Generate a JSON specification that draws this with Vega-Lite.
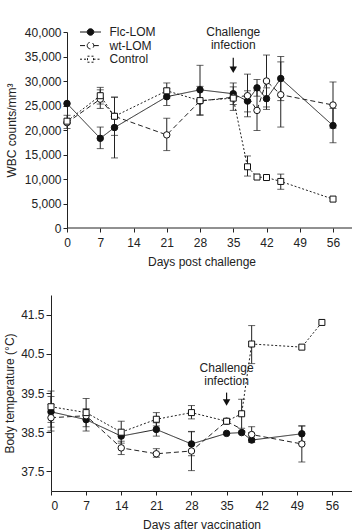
{
  "$schema": "https://vega.github.io/schema/vega-lite/v6.json",
  "padding": {"left": 3, "top": 26, "right": 0, "bottom": 0},
  "spacing": 28,
  "datasets": {
    "wbc": [
      {"series": "Flc-LOM", "day": 0, "value": 25400, "lo": null, "hi": null},
      {"series": "Flc-LOM", "day": 7, "value": 18300, "lo": 16200, "hi": 20600},
      {"series": "Flc-LOM", "day": 10, "value": 20500, "lo": 14300, "hi": 26700},
      {"series": "Flc-LOM", "day": 21, "value": 26800, "lo": 25000, "hi": 28500},
      {"series": "Flc-LOM", "day": 28, "value": 28200, "lo": 23100, "hi": 33200},
      {"series": "Flc-LOM", "day": 35, "value": 27400, "lo": 25200, "hi": 29600},
      {"series": "Flc-LOM", "day": 38, "value": 25900, "lo": 23700, "hi": 28000},
      {"series": "Flc-LOM", "day": 40, "value": 28600, "lo": 26900, "hi": 30300},
      {"series": "Flc-LOM", "day": 42, "value": 26400, "lo": 24200, "hi": 28600},
      {"series": "Flc-LOM", "day": 45, "value": 30500, "lo": 26000, "hi": 35000},
      {"series": "Flc-LOM", "day": 56, "value": 20900, "lo": 17400, "hi": 24400},
      {"series": "wt-LOM", "day": 0, "value": 21500, "lo": 20300, "hi": 23000},
      {"series": "wt-LOM", "day": 7, "value": 26300, "lo": 24400, "hi": 28200},
      {"series": "wt-LOM", "day": 10, "value": 22800, "lo": 18900, "hi": 26700},
      {"series": "wt-LOM", "day": 21, "value": 19000, "lo": 15800, "hi": 22400},
      {"series": "wt-LOM", "day": 28, "value": 25900, "lo": 23000, "hi": 28900},
      {"series": "wt-LOM", "day": 35, "value": 26700, "lo": 24000, "hi": 28800},
      {"series": "wt-LOM", "day": 38, "value": 27000, "lo": 22700, "hi": 31400},
      {"series": "wt-LOM", "day": 40, "value": 24000, "lo": 19900, "hi": 28100},
      {"series": "wt-LOM", "day": 42, "value": 30000, "lo": 24700, "hi": 35300},
      {"series": "wt-LOM", "day": 45, "value": 27200, "lo": 20600, "hi": 33900},
      {"series": "wt-LOM", "day": 56, "value": 25100, "lo": 20400, "hi": 29800},
      {"series": "Control", "day": 0, "value": 21800, "lo": null, "hi": null},
      {"series": "Control", "day": 7, "value": 27000, "lo": 25300, "hi": 28700},
      {"series": "Control", "day": 10, "value": 22800, "lo": null, "hi": null},
      {"series": "Control", "day": 21, "value": 28000, "lo": 26500, "hi": 29600},
      {"series": "Control", "day": 28, "value": 26000, "lo": null, "hi": null},
      {"series": "Control", "day": 35, "value": 26500, "lo": null, "hi": null},
      {"series": "Control", "day": 38, "value": 12500, "lo": 10600, "hi": 14700},
      {"series": "Control", "day": 40, "value": 10400, "lo": null, "hi": null},
      {"series": "Control", "day": 42, "value": 10300, "lo": null, "hi": null},
      {"series": "Control", "day": 45, "value": 9500, "lo": 7900, "hi": 11000},
      {"series": "Control", "day": 56, "value": 5900, "lo": null, "hi": null}
    ],
    "temp": [
      {"series": "Flc-LOM", "day": 0, "value": 39.02, "lo": 38.63, "hi": 39.41},
      {"series": "Flc-LOM", "day": 7, "value": 38.82, "lo": 38.53, "hi": 39.1},
      {"series": "Flc-LOM", "day": 14, "value": 38.4, "lo": null, "hi": null},
      {"series": "Flc-LOM", "day": 21, "value": 38.57, "lo": 38.4, "hi": 38.74},
      {"series": "Flc-LOM", "day": 28, "value": 38.2, "lo": 37.9, "hi": 38.51},
      {"series": "Flc-LOM", "day": 35, "value": 38.47, "lo": null, "hi": null},
      {"series": "Flc-LOM", "day": 38, "value": 38.49, "lo": null, "hi": null},
      {"series": "Flc-LOM", "day": 40, "value": 38.3, "lo": null, "hi": null},
      {"series": "Flc-LOM", "day": 50, "value": 38.46, "lo": 38.26, "hi": 38.66},
      {"series": "wt-LOM", "day": 0, "value": 38.87, "lo": 38.53, "hi": 39.21},
      {"series": "wt-LOM", "day": 7, "value": 38.92, "lo": null, "hi": null},
      {"series": "wt-LOM", "day": 14, "value": 38.1, "lo": 37.93, "hi": 38.27},
      {"series": "wt-LOM", "day": 21, "value": 37.95, "lo": 37.86, "hi": 38.08},
      {"series": "wt-LOM", "day": 28, "value": 38.02, "lo": 37.52, "hi": 38.52},
      {"series": "wt-LOM", "day": 35, "value": 38.78, "lo": null, "hi": null},
      {"series": "wt-LOM", "day": 40, "value": 38.44, "lo": 38.24, "hi": 38.64},
      {"series": "wt-LOM", "day": 50, "value": 38.2, "lo": 37.74, "hi": 38.66},
      {"series": "Control", "day": 0, "value": 39.15, "lo": 38.75, "hi": 39.55},
      {"series": "Control", "day": 7, "value": 39.0, "lo": 38.64, "hi": 39.36},
      {"series": "Control", "day": 14, "value": 38.5, "lo": 38.22, "hi": 38.78},
      {"series": "Control", "day": 21, "value": 38.83, "lo": 38.66, "hi": 39.0},
      {"series": "Control", "day": 28, "value": 39.0, "lo": 38.84, "hi": 39.18},
      {"series": "Control", "day": 35, "value": 38.78, "lo": null, "hi": null},
      {"series": "Control", "day": 38, "value": 38.97, "lo": 38.6, "hi": 39.34},
      {"series": "Control", "day": 40, "value": 40.75, "lo": 40.25, "hi": 41.22},
      {"series": "Control", "day": 50, "value": 40.67, "lo": null, "hi": null},
      {"series": "Control", "day": 54, "value": 41.3, "lo": null, "hi": null}
    ],
    "noteTop": [{"day": 35, "value": 40000}],
    "arrowTop": [{"day": 35, "value": 34770, "end": 32300}],
    "axisLineTop": [{"day": 0, "end": 60, "value": 0}],
    "noteBottom": [{"day": 35, "value": 40.15}],
    "arrowBottom": [{"day": 35, "value": 39.51, "end": 39.26}]
  },
  "vconcat": [
    {
      "width": 301,
      "height": 196,
      "layer": [
        {
          "data": {"name": "axisLineTop"},
          "mark": {"type": "rule", "color": "#222", "strokeWidth": 1},
          "encoding": {
            "x": {"field": "day", "type": "quantitative", "scale": {"domain": [-3.37, 60], "nice": false, "zero": false}, "axis": {"values": [0, 7, 14, 21, 28, 35, 42, 49, 56], "title": "Days post challenge", "labelPadding": 5, "titlePadding": 8, "labelOverlap": false, "domain": false}},
            "x2": {"field": "end"},
            "y": {"field": "value", "type": "quantitative", "scale": {"domain": [0, 40000], "nice": false}, "axis": {"values": [0, 5000, 10000, 15000, 20000, 25000, 30000, 35000, 40000], "format": ",.0f", "title": "WBC counts/mm³", "titlePadding": 6, "labelOverlap": false, "offset": -16}}
          }
        },
        {
          "data": {"name": "wbc"},
          "transform": [{"filter": "isValid(datum.lo)"}],
          "mark": {"type": "rule", "color": "#222", "strokeWidth": 1},
          "encoding": {
            "x": {"field": "day", "type": "quantitative", "scale": {"domain": [-3.37, 60], "nice": false, "zero": false}, "axis": {"values": [0, 7, 14, 21, 28, 35, 42, 49, 56], "title": "Days post challenge", "labelPadding": 5, "titlePadding": 8, "labelOverlap": false, "domain": false}},
            "y": {"field": "lo", "type": "quantitative", "scale": {"domain": [0, 40000], "nice": false}, "axis": {"values": [0, 5000, 10000, 15000, 20000, 25000, 30000, 35000, 40000], "format": ",.0f", "title": "WBC counts/mm³", "titlePadding": 6, "labelOverlap": false, "offset": -16}},
            "y2": {"field": "hi"}
          }
        },
        {
          "data": {"name": "wbc"},
          "transform": [{"filter": "isValid(datum.lo)"}],
          "mark": {"type": "tick", "orient": "horizontal", "size": 7, "thickness": 1, "color": "#222"},
          "encoding": {
            "x": {"field": "day", "type": "quantitative", "scale": {"domain": [-3.37, 60], "nice": false, "zero": false}, "axis": {"values": [0, 7, 14, 21, 28, 35, 42, 49, 56], "title": "Days post challenge", "labelPadding": 5, "titlePadding": 8, "labelOverlap": false, "domain": false}},
            "y": {"field": "lo", "type": "quantitative", "scale": {"domain": [0, 40000], "nice": false}, "axis": {"values": [0, 5000, 10000, 15000, 20000, 25000, 30000, 35000, 40000], "format": ",.0f", "title": "WBC counts/mm³", "titlePadding": 6, "labelOverlap": false, "offset": -16}}
          }
        },
        {
          "data": {"name": "wbc"},
          "transform": [{"filter": "isValid(datum.hi)"}],
          "mark": {"type": "tick", "orient": "horizontal", "size": 7, "thickness": 1, "color": "#222"},
          "encoding": {
            "x": {"field": "day", "type": "quantitative", "scale": {"domain": [-3.37, 60], "nice": false, "zero": false}, "axis": {"values": [0, 7, 14, 21, 28, 35, 42, 49, 56], "title": "Days post challenge", "labelPadding": 5, "titlePadding": 8, "labelOverlap": false, "domain": false}},
            "y": {"field": "hi", "type": "quantitative", "scale": {"domain": [0, 40000], "nice": false}, "axis": {"values": [0, 5000, 10000, 15000, 20000, 25000, 30000, 35000, 40000], "format": ",.0f", "title": "WBC counts/mm³", "titlePadding": 6, "labelOverlap": false, "offset": -16}}
          }
        },
        {
          "data": {"name": "wbc"},
          "mark": {"type": "line", "color": "#222", "strokeWidth": 1},
          "encoding": {
            "x": {"field": "day", "type": "quantitative", "scale": {"domain": [-3.37, 60], "nice": false, "zero": false}, "axis": {"values": [0, 7, 14, 21, 28, 35, 42, 49, 56], "title": "Days post challenge", "labelPadding": 5, "titlePadding": 8, "labelOverlap": false, "domain": false}},
            "y": {"field": "value", "type": "quantitative", "scale": {"domain": [0, 40000], "nice": false}, "axis": {"values": [0, 5000, 10000, 15000, 20000, 25000, 30000, 35000, 40000], "format": ",.0f", "title": "WBC counts/mm³", "titlePadding": 6, "labelOverlap": false, "offset": -16}},
            "strokeDash": {
              "field": "series", "type": "nominal",
              "scale": {"domain": ["Flc-LOM", "wt-LOM", "Control"], "range": [[1, 0], [5, 3], [2, 2]]},
              "legend": {
                "orient": "none", "legendX": 33.5, "legendY": -6, "title": null,
                "symbolSize": 100, "labelOffset": 13, "labelFontSize": 12, "labelFont": "Liberation Sans",
                "rowPadding": 1.6, "padding": 0, "symbolStrokeColor": "#111", "symbolStrokeWidth": 1,
                "encode": {"symbols": {"update": {
                  "shape": {"signal": "datum.value === 'Control' ? 'M-2.1,0H-0.6M0.6,0H2.1M-0.6,-0.6H0.6V0.6H-0.6Z' : 'M-2.1,0H-0.66M0.66,0H2.1M-0.66,0A0.66,0.66,0,1,0,0.66,0A0.66,0.66,0,1,0,-0.66,0Z'"},
                  "fill": {"signal": "datum.value === 'Flc-LOM' ? '#111' : 'white'"},
                  "fillOpacity": {"value": 1},
                  "stroke": {"value": "#111"},
                  "opacity": {"value": 1}
                }}}
              }
            }
          }
        },
        {
          "data": {"name": "wbc"},
          "transform": [{"filter": "datum.series === 'Flc-LOM'"}],
          "mark": {"type": "point", "shape": "circle", "filled": true, "fill": "#111", "stroke": "#111", "strokeWidth": 1, "size": 42, "opacity": 1, "fillOpacity": 1},
          "encoding": {
            "x": {"field": "day", "type": "quantitative", "scale": {"domain": [-3.37, 60], "nice": false, "zero": false}, "axis": {"values": [0, 7, 14, 21, 28, 35, 42, 49, 56], "title": "Days post challenge", "labelPadding": 5, "titlePadding": 8, "labelOverlap": false, "domain": false}},
            "y": {"field": "value", "type": "quantitative", "scale": {"domain": [0, 40000], "nice": false}, "axis": {"values": [0, 5000, 10000, 15000, 20000, 25000, 30000, 35000, 40000], "format": ",.0f", "title": "WBC counts/mm³", "titlePadding": 6, "labelOverlap": false, "offset": -16}}
          }
        },
        {
          "data": {"name": "wbc"},
          "transform": [{"filter": "datum.series === 'wt-LOM'"}],
          "mark": {"type": "point", "shape": "circle", "filled": true, "fill": "white", "stroke": "#111", "strokeWidth": 1, "size": 42, "opacity": 1, "fillOpacity": 1},
          "encoding": {
            "x": {"field": "day", "type": "quantitative", "scale": {"domain": [-3.37, 60], "nice": false, "zero": false}, "axis": {"values": [0, 7, 14, 21, 28, 35, 42, 49, 56], "title": "Days post challenge", "labelPadding": 5, "titlePadding": 8, "labelOverlap": false, "domain": false}},
            "y": {"field": "value", "type": "quantitative", "scale": {"domain": [0, 40000], "nice": false}, "axis": {"values": [0, 5000, 10000, 15000, 20000, 25000, 30000, 35000, 40000], "format": ",.0f", "title": "WBC counts/mm³", "titlePadding": 6, "labelOverlap": false, "offset": -16}}
          }
        },
        {
          "data": {"name": "wbc"},
          "transform": [{"filter": "datum.series === 'Control'"}],
          "mark": {"type": "point", "shape": "square", "filled": true, "fill": "white", "stroke": "#111", "strokeWidth": 1, "size": 36, "opacity": 1, "fillOpacity": 1},
          "encoding": {
            "x": {"field": "day", "type": "quantitative", "scale": {"domain": [-3.37, 60], "nice": false, "zero": false}, "axis": {"values": [0, 7, 14, 21, 28, 35, 42, 49, 56], "title": "Days post challenge", "labelPadding": 5, "titlePadding": 8, "labelOverlap": false, "domain": false}},
            "y": {"field": "value", "type": "quantitative", "scale": {"domain": [0, 40000], "nice": false}, "axis": {"values": [0, 5000, 10000, 15000, 20000, 25000, 30000, 35000, 40000], "format": ",.0f", "title": "WBC counts/mm³", "titlePadding": 6, "labelOverlap": false, "offset": -16}}
          }
        },
        {
          "data": {"name": "noteTop"},
          "mark": {"type": "text", "text": ["Challenge", "infection"], "lineHeight": 13.4, "baseline": "middle", "align": "center", "fontSize": 12, "font": "Liberation Sans", "color": "#222"},
          "encoding": {
            "x": {"field": "day", "type": "quantitative", "scale": {"domain": [-3.37, 60], "nice": false, "zero": false}, "axis": {"values": [0, 7, 14, 21, 28, 35, 42, 49, 56], "title": "Days post challenge", "labelPadding": 5, "titlePadding": 8, "labelOverlap": false, "domain": false}},
            "y": {"field": "value", "type": "quantitative", "scale": {"domain": [0, 40000], "nice": false}, "axis": {"values": [0, 5000, 10000, 15000, 20000, 25000, 30000, 35000, 40000], "format": ",.0f", "title": "WBC counts/mm³", "titlePadding": 6, "labelOverlap": false, "offset": -16}}
          }
        },
        {
          "data": {"name": "arrowTop"},
          "mark": {"type": "rule", "color": "#111", "strokeWidth": 1.2},
          "encoding": {
            "x": {"field": "day", "type": "quantitative", "scale": {"domain": [-3.37, 60], "nice": false, "zero": false}, "axis": {"values": [0, 7, 14, 21, 28, 35, 42, 49, 56], "title": "Days post challenge", "labelPadding": 5, "titlePadding": 8, "labelOverlap": false, "domain": false}},
            "y": {"field": "value", "type": "quantitative", "scale": {"domain": [0, 40000], "nice": false}, "axis": {"values": [0, 5000, 10000, 15000, 20000, 25000, 30000, 35000, 40000], "format": ",.0f", "title": "WBC counts/mm³", "titlePadding": 6, "labelOverlap": false, "offset": -16}},
            "y2": {"field": "end"}
          }
        },
        {
          "data": {"name": "arrowTop"},
          "mark": {"type": "point", "shape": "triangle-down", "filled": true, "color": "#111", "size": 56, "opacity": 1},
          "encoding": {
            "x": {"field": "day", "type": "quantitative", "scale": {"domain": [-3.37, 60], "nice": false, "zero": false}, "axis": {"values": [0, 7, 14, 21, 28, 35, 42, 49, 56], "title": "Days post challenge", "labelPadding": 5, "titlePadding": 8, "labelOverlap": false, "domain": false}},
            "y": {"field": "end", "type": "quantitative", "scale": {"domain": [0, 40000], "nice": false}, "axis": {"values": [0, 5000, 10000, 15000, 20000, 25000, 30000, 35000, 40000], "format": ",.0f", "title": "WBC counts/mm³", "titlePadding": 6, "labelOverlap": false, "offset": -16}}
          }
        }
      ]
    },
    {
      "width": 301,
      "height": 196,
      "layer": [
        {
          "data": {"name": "temp"},
          "transform": [{"filter": "isValid(datum.lo)"}],
          "mark": {"type": "rule", "color": "#222", "strokeWidth": 1},
          "encoding": {
            "x": {"field": "day", "type": "quantitative", "scale": {"domain": [0, 60], "nice": false}, "axis": {"values": [0, 7, 14, 21, 28, 35, 42, 49, 56], "title": "Days after vaccination", "labelPadding": 5, "titlePadding": 8, "labelOverlap": false}},
            "y": {"field": "lo", "type": "quantitative", "scale": {"domain": [37, 42], "nice": false, "zero": false}, "axis": {"values": [37.5, 38.5, 39.5, 40.5, 41.5], "format": ".1f", "title": "Body temperature (°C)", "titlePadding": 4, "tickSize": 5, "labelOverlap": false}},
            "y2": {"field": "hi"}
          }
        },
        {
          "data": {"name": "temp"},
          "transform": [{"filter": "isValid(datum.lo)"}],
          "mark": {"type": "tick", "orient": "horizontal", "size": 7, "thickness": 1, "color": "#222"},
          "encoding": {
            "x": {"field": "day", "type": "quantitative", "scale": {"domain": [0, 60], "nice": false}, "axis": {"values": [0, 7, 14, 21, 28, 35, 42, 49, 56], "title": "Days after vaccination", "labelPadding": 5, "titlePadding": 8, "labelOverlap": false}},
            "y": {"field": "lo", "type": "quantitative", "scale": {"domain": [37, 42], "nice": false, "zero": false}, "axis": {"values": [37.5, 38.5, 39.5, 40.5, 41.5], "format": ".1f", "title": "Body temperature (°C)", "titlePadding": 4, "tickSize": 5, "labelOverlap": false}}
          }
        },
        {
          "data": {"name": "temp"},
          "transform": [{"filter": "isValid(datum.hi)"}],
          "mark": {"type": "tick", "orient": "horizontal", "size": 7, "thickness": 1, "color": "#222"},
          "encoding": {
            "x": {"field": "day", "type": "quantitative", "scale": {"domain": [0, 60], "nice": false}, "axis": {"values": [0, 7, 14, 21, 28, 35, 42, 49, 56], "title": "Days after vaccination", "labelPadding": 5, "titlePadding": 8, "labelOverlap": false}},
            "y": {"field": "hi", "type": "quantitative", "scale": {"domain": [37, 42], "nice": false, "zero": false}, "axis": {"values": [37.5, 38.5, 39.5, 40.5, 41.5], "format": ".1f", "title": "Body temperature (°C)", "titlePadding": 4, "tickSize": 5, "labelOverlap": false}}
          }
        },
        {
          "data": {"name": "temp"},
          "mark": {"type": "line", "color": "#222", "strokeWidth": 1},
          "encoding": {
            "x": {"field": "day", "type": "quantitative", "scale": {"domain": [0, 60], "nice": false}, "axis": {"values": [0, 7, 14, 21, 28, 35, 42, 49, 56], "title": "Days after vaccination", "labelPadding": 5, "titlePadding": 8, "labelOverlap": false}},
            "y": {"field": "value", "type": "quantitative", "scale": {"domain": [37, 42], "nice": false, "zero": false}, "axis": {"values": [37.5, 38.5, 39.5, 40.5, 41.5], "format": ".1f", "title": "Body temperature (°C)", "titlePadding": 4, "tickSize": 5, "labelOverlap": false}},
            "strokeDash": {
              "field": "series", "type": "nominal",
              "scale": {"domain": ["Flc-LOM", "wt-LOM", "Control"], "range": [[1, 0], [5, 3], [2, 2]]},
              "legend": {
                "orient": "none", "legendX": 17.5, "legendY": -6, "title": null,
                "symbolSize": 100, "labelOffset": 15, "labelFontSize": 12, "labelFont": "Liberation Sans",
                "rowPadding": 1.7, "padding": 0, "symbolStrokeColor": "#111", "symbolStrokeWidth": 1,
                "encode": {"symbols": {"update": {
                  "shape": {"signal": "datum.value === 'Control' ? 'M-2.03,0H-0.6M0.6,0H2.03M-0.6,-0.6H0.6V0.6H-0.6Z' : 'M-2.03,0H-0.66M0.66,0H2.03M-0.66,0A0.66,0.66,0,1,0,0.66,0A0.66,0.66,0,1,0,-0.66,0Z'"},
                  "fill": {"signal": "datum.value === 'Flc-LOM' ? '#111' : 'white'"},
                  "fillOpacity": {"value": 1},
                  "stroke": {"value": "#111"},
                  "opacity": {"value": 1}
                }}}
              }
            }
          }
        },
        {
          "data": {"name": "temp"},
          "transform": [{"filter": "datum.series === 'Flc-LOM'"}],
          "mark": {"type": "point", "shape": "circle", "filled": true, "fill": "#111", "stroke": "#111", "strokeWidth": 1, "size": 42, "opacity": 1, "fillOpacity": 1},
          "encoding": {
            "x": {"field": "day", "type": "quantitative", "scale": {"domain": [0, 60], "nice": false}, "axis": {"values": [0, 7, 14, 21, 28, 35, 42, 49, 56], "title": "Days after vaccination", "labelPadding": 5, "titlePadding": 8, "labelOverlap": false}},
            "y": {"field": "value", "type": "quantitative", "scale": {"domain": [37, 42], "nice": false, "zero": false}, "axis": {"values": [37.5, 38.5, 39.5, 40.5, 41.5], "format": ".1f", "title": "Body temperature (°C)", "titlePadding": 4, "tickSize": 5, "labelOverlap": false}}
          }
        },
        {
          "data": {"name": "temp"},
          "transform": [{"filter": "datum.series === 'wt-LOM'"}],
          "mark": {"type": "point", "shape": "circle", "filled": true, "fill": "white", "stroke": "#111", "strokeWidth": 1, "size": 42, "opacity": 1, "fillOpacity": 1},
          "encoding": {
            "x": {"field": "day", "type": "quantitative", "scale": {"domain": [0, 60], "nice": false}, "axis": {"values": [0, 7, 14, 21, 28, 35, 42, 49, 56], "title": "Days after vaccination", "labelPadding": 5, "titlePadding": 8, "labelOverlap": false}},
            "y": {"field": "value", "type": "quantitative", "scale": {"domain": [37, 42], "nice": false, "zero": false}, "axis": {"values": [37.5, 38.5, 39.5, 40.5, 41.5], "format": ".1f", "title": "Body temperature (°C)", "titlePadding": 4, "tickSize": 5, "labelOverlap": false}}
          }
        },
        {
          "data": {"name": "temp"},
          "transform": [{"filter": "datum.series === 'Control'"}],
          "mark": {"type": "point", "shape": "square", "filled": true, "fill": "white", "stroke": "#111", "strokeWidth": 1, "size": 36, "opacity": 1, "fillOpacity": 1},
          "encoding": {
            "x": {"field": "day", "type": "quantitative", "scale": {"domain": [0, 60], "nice": false}, "axis": {"values": [0, 7, 14, 21, 28, 35, 42, 49, 56], "title": "Days after vaccination", "labelPadding": 5, "titlePadding": 8, "labelOverlap": false}},
            "y": {"field": "value", "type": "quantitative", "scale": {"domain": [37, 42], "nice": false, "zero": false}, "axis": {"values": [37.5, 38.5, 39.5, 40.5, 41.5], "format": ".1f", "title": "Body temperature (°C)", "titlePadding": 4, "tickSize": 5, "labelOverlap": false}}
          }
        },
        {
          "data": {"name": "noteBottom"},
          "mark": {"type": "text", "text": ["Challenge", "infection"], "lineHeight": 13, "baseline": "middle", "align": "center", "fontSize": 12, "font": "Liberation Sans", "color": "#222"},
          "encoding": {
            "x": {"field": "day", "type": "quantitative", "scale": {"domain": [0, 60], "nice": false}, "axis": {"values": [0, 7, 14, 21, 28, 35, 42, 49, 56], "title": "Days after vaccination", "labelPadding": 5, "titlePadding": 8, "labelOverlap": false}},
            "y": {"field": "value", "type": "quantitative", "scale": {"domain": [37, 42], "nice": false, "zero": false}, "axis": {"values": [37.5, 38.5, 39.5, 40.5, 41.5], "format": ".1f", "title": "Body temperature (°C)", "titlePadding": 4, "tickSize": 5, "labelOverlap": false}}
          }
        },
        {
          "data": {"name": "arrowBottom"},
          "mark": {"type": "rule", "color": "#111", "strokeWidth": 1.2},
          "encoding": {
            "x": {"field": "day", "type": "quantitative", "scale": {"domain": [0, 60], "nice": false}, "axis": {"values": [0, 7, 14, 21, 28, 35, 42, 49, 56], "title": "Days after vaccination", "labelPadding": 5, "titlePadding": 8, "labelOverlap": false}},
            "y": {"field": "value", "type": "quantitative", "scale": {"domain": [37, 42], "nice": false, "zero": false}, "axis": {"values": [37.5, 38.5, 39.5, 40.5, 41.5], "format": ".1f", "title": "Body temperature (°C)", "titlePadding": 4, "tickSize": 5, "labelOverlap": false}},
            "y2": {"field": "end"}
          }
        },
        {
          "data": {"name": "arrowBottom"},
          "mark": {"type": "point", "shape": "triangle-down", "filled": true, "color": "#111", "size": 56, "opacity": 1},
          "encoding": {
            "x": {"field": "day", "type": "quantitative", "scale": {"domain": [0, 60], "nice": false}, "axis": {"values": [0, 7, 14, 21, 28, 35, 42, 49, 56], "title": "Days after vaccination", "labelPadding": 5, "titlePadding": 8, "labelOverlap": false}},
            "y": {"field": "end", "type": "quantitative", "scale": {"domain": [37, 42], "nice": false, "zero": false}, "axis": {"values": [37.5, 38.5, 39.5, 40.5, 41.5], "format": ".1f", "title": "Body temperature (°C)", "titlePadding": 4, "tickSize": 5, "labelOverlap": false}}
          }
        }
      ]
    }
  ],
  "config": {
    "view": {"stroke": null},
    "font": "Liberation Sans",
    "axis": {
      "grid": false, "domainColor": "#222", "tickColor": "#222", "labelColor": "#222", "titleColor": "#222",
      "labelFontSize": 12, "titleFontSize": 12, "titleFontWeight": "normal", "tickSize": 4, "labelPadding": 2,
      "domainWidth": 1, "tickWidth": 1, "labelFont": "Liberation Sans", "titleFont": "Liberation Sans"
    },
    "legend": {"labelColor": "#222"}
  }
}
